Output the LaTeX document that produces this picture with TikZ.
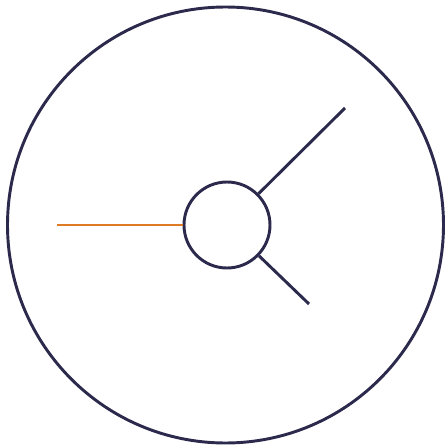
\documentclass[tikz,border=0pt]{standalone}
\definecolor{navy}{HTML}{2B2A4C}
\definecolor{orng}{HTML}{E07B24}
\begin{document}
\begin{tikzpicture}[x=0.75pt,y=-0.75pt,
  ring/.style={draw=navy,line width=2.2pt},
  spoke/.style={draw=navy,line width=2.2pt},
  ospoke/.style={draw=orng,line width=2.2pt}]
\useasboundingbox (0,0) rectangle (447,446);
\node[ring,circle,minimum size=436*0.75pt,inner sep=0pt] (outer) at (225.5,225) {};
\node[ring,circle,minimum size=86*0.75pt,inner sep=0pt] (hub) at (227,225) {};
\coordinate (a) at (57,225);
\coordinate (b) at (345,108);
\coordinate (c) at (309,304);
\draw[ospoke] (a) -- (hub);
\draw[spoke] (hub) -- (b);
\draw[spoke] (hub) -- (c);
\end{tikzpicture}
\end{document}
